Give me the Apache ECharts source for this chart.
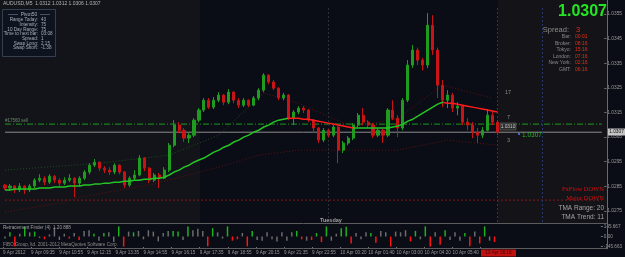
<!DOCTYPE html>
<html>
<head>
<meta charset="utf-8">
<title>AUDUSD M5</title>
<script src="https://cdn.jsdelivr.net/npm/echarts@6.0.0/dist/echarts.min.js"></script>
<style>
html, body { margin: 0; padding: 0; background: #0a0d15; }
#chart { width: 625px; height: 257px; }
</style>
</head>
<body>
<div id="chart"></div>
<script>
// AUDUSD M5 candles (one candle ~ 5px)
const opens = [1.02855,1.02843,1.02851,1.02835,1.02851,1.02835,1.02851,1.02875,1.02883,1.02867,
  1.02891,1.02875,1.02863,1.02875,1.02883,1.02863,1.02883,1.02908,1.02936,1.02948,
  1.02924,1.02916,1.02908,1.02936,1.02908,1.02855,1.02883,1.02896,1.02965,1.02924,
  1.02875,1.02896,1.02883,1.02916,1.03017,1.03099,1.03078,1.03046,1.03058,1.03119,
  1.0316,1.032,1.03172,1.032,1.03221,1.03192,1.03233,1.032,1.0318,1.032,
  1.0318,1.03209,1.03241,1.03302,1.03274,1.03249,1.03209,1.03221,1.03127,1.03152,
  1.03168,1.0316,1.03119,1.03087,1.03038,1.03078,1.03058,1.03091,1.02997,1.03026,
  1.03046,1.03099,1.03139,1.03111,1.03099,1.03058,1.03078,1.03058,1.0316,1.03127,
  1.03087,1.032,1.03343,1.03404,1.03363,1.03343,1.03505,1.03404,1.03261,1.032,
  1.03221,1.03168,1.03176,1.03111,1.03099,1.0307,1.03058,1.03078,1.03139,1.03111];
const closes = [1.02843,1.02851,1.02835,1.02851,1.02835,1.02851,1.02875,1.02883,1.02867,1.02891,
  1.02875,1.02863,1.02875,1.02883,1.02863,1.02883,1.02908,1.02936,1.02948,1.02924,
  1.02916,1.02908,1.02936,1.02908,1.02855,1.02883,1.02896,1.02965,1.02924,1.02875,
  1.02896,1.02883,1.02916,1.03017,1.03099,1.03078,1.03046,1.03058,1.03119,1.0316,
  1.032,1.03172,1.032,1.03221,1.03192,1.03233,1.032,1.0318,1.032,1.0318,
  1.03209,1.03241,1.03302,1.03274,1.03249,1.03209,1.03221,1.03127,1.03152,1.03168,
  1.0316,1.03119,1.03087,1.03038,1.03078,1.03058,1.03091,1.02997,1.03026,1.03046,
  1.03099,1.03139,1.03111,1.03099,1.03058,1.03078,1.03058,1.0316,1.03127,1.03087,
  1.032,1.03343,1.03404,1.03363,1.03343,1.03505,1.03404,1.03261,1.032,1.03221,
  1.03168,1.03176,1.03111,1.03099,1.0307,1.03058,1.03078,1.03139,1.03111,1.0307];
const highs = [1.0286,1.02859,1.02855,1.02863,1.02855,1.02859,1.02883,1.02899,1.02891,1.02899,
  1.02896,1.02883,1.02887,1.02899,1.02887,1.02891,1.02916,1.02944,1.02961,1.02952,
  1.02932,1.02928,1.02944,1.0294,1.02912,1.02891,1.02916,1.02977,1.02969,1.02928,
  1.02904,1.02904,1.02928,1.03026,1.03119,1.03111,1.03087,1.03066,1.03127,1.03168,
  1.03209,1.03209,1.03213,1.03233,1.03225,1.03245,1.03237,1.03209,1.03209,1.03204,
  1.03217,1.03249,1.0331,1.03306,1.03282,1.03253,1.0323,1.03225,1.0316,1.03176,
  1.03176,1.03164,1.03123,1.03091,1.03087,1.03083,1.03099,1.03095,1.03034,1.03054,
  1.03107,1.03148,1.03168,1.03119,1.03107,1.03087,1.03083,1.03168,1.032,1.03139,
  1.03209,1.03363,1.03424,1.03414,1.03372,1.03554,1.03546,1.03414,1.03282,1.03241,
  1.0323,1.03192,1.0318,1.03127,1.03111,1.03087,1.03091,1.03164,1.03152,1.03119];
const lows = [1.02835,1.02831,1.02823,1.02827,1.02819,1.02827,1.02843,1.02867,1.02855,1.02859,
  1.02863,1.02847,1.02855,1.02867,1.02806,1.02851,1.02875,1.02899,1.02928,1.02912,
  1.02904,1.02896,1.02899,1.02899,1.02843,1.02847,1.02875,1.02891,1.02912,1.02863,
  1.02867,1.02843,1.02879,1.02908,1.03009,1.03066,1.0303,1.03026,1.0305,1.03111,
  1.03152,1.03164,1.03164,1.03192,1.0318,1.03184,1.03188,1.03168,1.03172,1.03172,
  1.03176,1.032,1.03233,1.03265,1.03241,1.032,1.032,1.03119,1.03099,1.03143,
  1.03148,1.03111,1.03066,1.03026,1.0303,1.0305,1.0305,1.02944,1.02985,1.03017,
  1.03038,1.03091,1.03099,1.03087,1.03046,1.0305,1.03026,1.0305,1.03119,1.0305,
  1.03078,1.03192,1.03331,1.03343,1.03321,1.03331,1.03384,1.03209,1.03172,1.03168,
  1.03152,1.03139,1.03099,1.03078,1.03046,1.03026,1.03046,1.03074,1.03099,1.03058];

// TMA centre line
const tmaLine = [1.02835,1.02835,1.02839,1.02839,1.02839,1.02839,1.02839,1.02843,1.02843,1.02843,
  1.02847,1.02847,1.02847,1.02851,1.02851,1.02851,1.02855,1.02855,1.02859,1.02859,
  1.02863,1.02863,1.02867,1.02867,1.02871,1.02871,1.02875,1.02875,1.02879,1.02879,
  1.02883,1.02883,1.02887,1.02896,1.02908,1.02916,1.02928,1.02936,1.02948,1.02957,
  1.02965,1.02977,1.02989,1.02997,1.03009,1.03017,1.0303,1.03038,1.0305,1.03058,
  1.0307,1.03078,1.03091,1.03099,1.03111,1.03119,1.03123,1.03127,1.03127,1.03127,
  1.03123,1.03123,1.03119,1.03115,1.03111,1.03107,1.03103,1.03099,1.03095,1.03091,
  1.03087,1.03087,1.03087,1.03087,1.03087,1.03087,1.03087,1.03087,1.03091,1.03095,
  1.03103,1.03115,1.03123,1.03135,1.03148,1.0316,1.03172,1.03184,1.03192,1.03188,
  1.03188,1.03184,1.0318,1.03176,1.03172,1.03168,1.03164,1.0316,1.03156,1.03152];
// candle index ranges where the TMA slopes down (drawn red)
const tmaDownRanges = [[57, 70], [88, 99]];

// faint band lines, [candle index, price]
const upperBandUp = [[0, 1.02916], [19, 1.02944], [33, 1.02977], [43, 1.03058], [52, 1.03229]];
const upperBandDown = [[52, 1.03229], [59, 1.03188], [70, 1.03091], [79, 1.03127], [88, 1.03261], [98, 1.03209]];
const lowerBand = [[0, 1.02745], [11, 1.02782], [15, 1.02806], [29, 1.02855], [43, 1.02928], [51, 1.02977],
  [59, 1.02997], [70, 1.02997], [79, 1.02997], [89, 1.03038], [99, 1.03017]];

// lower pane histogram and its state (1 up, -1 down, 0 neutral)
const histValues = [-30,60,-145,40,145,60,70,-20,-40,30,
  130,-50,40,-30,50,-50,80,90,40,-60,
  50,60,-80,145,-145,70,60,80,-40,90,
  70,-70,50,80,80,70,-50,145,90,110,
  80,-140,120,60,-30,145,-60,-40,50,-140,
  80,-50,-60,60,-40,-70,60,-60,60,80,
  -40,-60,-50,50,-80,145,-60,40,120,140,
  -100,50,-40,60,50,-90,80,60,-145,70,
  60,90,-70,80,-40,145,-145,60,-120,90,
  -50,60,-60,50,-140,70,-100,145,-60,-80];
const histState = [0,1,-1,0,1,0,1,0,-1,0,
  0,0,0,-1,0,-1,0,0,1,0,
  1,0,0,1,-1,0,1,0,0,0,
  0,0,0,0,1,1,0,1,0,0,
  0,-1,1,0,0,1,-1,-1,0,-1,
  1,0,0,0,0,0,0,0,0,1,
  -1,0,-1,1,-1,1,0,0,1,1,
  -1,0,0,0,1,-1,0,0,-1,0,
  0,0,-1,1,0,1,-1,0,-1,1,
  0,0,0,1,-1,0,-1,1,0,-1];

const futureBars = 21;
const priceTicks = [1.0275, 1.0285, 1.0295, 1.0305, 1.0315, 1.0325, 1.0335, 1.0345, 1.0355];
const histTicks = [-145.663, 0, 145.667];
const timeLabels = ['9 Apr 2012', '9 Apr 09:35', '9 Apr 10:55', '9 Apr 12:15', '9 Apr 13:35', '9 Apr 14:55',
  '9 Apr 16:15', '9 Apr 17:35', '9 Apr 18:55', '9 Apr 20:15', '9 Apr 21:35', '9 Apr 22:55',
  '10 Apr 00:20', '10 Apr 01:40', '10 Apr 03:00', '10 Apr 04:20', '10 Apr 05:40', '10 Apr 07:00'];

const lastPrice = 1.0307;
const orderLevel = 1.03103;
const lowLevel = 1.02794;
// vertical markers: day separator, current bar, time marker (candle index)
const daySplitBar = 65;
const currentBar = 99;
const timeMarkBar = 108;

const GREEN = '#1f9c1f';
const RED = '#c81414';
const GRAY_TXT = '#9a9a9a';
const SANS = 'Liberation Sans';

const cats = [];
for (let i = 0; i < closes.length + futureBars; i++) cats.push(String(i));
const lastCat = cats.length - 1;
const candles = closes.map((c, i) => [opens[i], c, lows[i], highs[i]]);

function txt(x, y, text, o) {
  o = o || {};
  return {
    type: 'text', x: x, y: y, z: 50, silent: true,
    style: {
      text: text, fill: o.fill || GRAY_TXT, font: (o.weight || 'normal') + ' ' + (o.size || 5) + 'px ' + (o.family || SANS),
      textAlign: o.align || 'left', textVerticalAlign: 'middle'
    }
  };
}

function levelLine(level, color, type) {
  return { type: 'line', xAxisIndex: 0, yAxisIndex: 0, data: [[0, level], [lastCat, level]], symbol: 'none', z: 3,
    silent: true, lineStyle: { width: 1, color: color, type: type } };
}

const panelRows = [['Range Today:', '43'], ['Intensity:', '75'], ['10 Day Range:', '75'], ['Time to next bar:', '03:08'],
  ['Spread:', '1'], ['Swap Long:', '2.15'], ['Swap Short:', '-1.38']];
const clockRows = [['Bar:', '00:01'], ['Broker:', '08:16'], ['Tokyo:', '15:16'], ['London:', '07:16'],
  ['New York:', '02:16'], ['GMT:', '06:16']];

const graphic = [
  // session shading
  { type: 'rect', z: 0, silent: true, shape: { x: 0, y: 0, width: 200, height: 223 }, style: { fill: '#131419' } },
  { type: 'rect', z: 0, silent: true, shape: { x: 498, y: 0, width: 109, height: 223 }, style: { fill: '#141418' } },
  // pane borders
  { type: 'line', z: 40, silent: true, shape: { x1: 0, y1: 223.5, x2: 607, y2: 223.5 }, style: { stroke: '#5c5c5c', lineWidth: 1 } },
  { type: 'line', z: 40, silent: true, shape: { x1: 0, y1: 248.5, x2: 607, y2: 248.5 }, style: { stroke: '#5c5c5c', lineWidth: 1 } },
  { type: 'line', z: 40, silent: true, shape: { x1: 607.5, y1: 0, x2: 607.5, y2: 249 }, style: { stroke: '#6a6a6a', lineWidth: 1 } },
  txt(3, 4, 'AUDUSD,M5  1.0312 1.0312 1.0306 1.0307', { fill: '#b4b4b4' }),
  // info panel
  { type: 'rect', z: 45, silent: true, shape: { x: 2.5, y: 9.5, width: 53, height: 47 }, style: { fill: '#0d1420', stroke: '#34404f', lineWidth: 1 } },
  txt(29, 15, '——  Pivot50  ——', { align: 'center', fill: '#a8b0ba' })
];
panelRows.forEach((r, k) => {
  graphic.push(txt(38, 20 + k * 4.7, r[0], { align: 'right', fill: '#a8b0ba', size: 4.6 }));
  graphic.push(txt(41, 20 + k * 4.7, r[1], { fill: '#a8b0ba', size: 4.6 }));
});
// top right block
graphic.push(txt(607, 12, lastPrice.toFixed(4), { align: 'right', fill: '#22e622', size: 16, weight: 'bold' }));
graphic.push(txt(569, 30, 'Spread:', { align: 'right', fill: '#8a8a8a', size: 7.5 }));
graphic.push(txt(576, 30, '3', { fill: '#e03018', size: 7.5 }));
clockRows.forEach((r, k) => {
  graphic.push(txt(571, 37 + k * 6.5, r[0], { align: 'right', fill: '#8a8a8a', size: 5 }));
  graphic.push(txt(575, 37 + k * 6.5, r[1], { fill: '#e03018', size: 5 }));
});
// labels near last bar
graphic.push(txt(505, 92, '17', { fill: '#8a8a8a', size: 5.5 }));
graphic.push(txt(507, 117, '7', { fill: '#8a8a8a', size: 5.5 }));
graphic.push(txt(507, 140, '3', { fill: '#8a8a8a', size: 5.5 }));
graphic.push({ type: 'rect', z: 45, silent: true, shape: { x: 500, y: 123, width: 16, height: 7 }, style: { fill: '#2c2c2c', stroke: '#777', lineWidth: 0.5 } });
graphic.push(txt(508, 126.5, '1.0310', { align: 'center', fill: '#c8c8c8', size: 4.8 }));
graphic.push({ type: 'rect', z: 45, silent: true, shape: { x: 518, y: 133, width: 2, height: 2 }, style: { fill: '#3a6ad0' } });
graphic.push(txt(522, 135, '1.0307', { fill: '#2cb82c', size: 6.5 }));
// last price tag on the price scale
graphic.push({ type: 'rect', z: 45, silent: true, shape: { x: 608, y: 128.5, width: 17, height: 7 }, style: { fill: '#c4c4c4' } });
graphic.push(txt(616.5, 132, '1.0307', { align: 'center', fill: '#111', size: 4.8 }));
// signals
graphic.push(txt(604, 189, 'FxFlow DOWN', { align: 'right', fill: '#d41010', size: 6.5, family: 'Liberation Serif' }));
graphic.push(txt(604, 198, 'Major DOWN', { align: 'right', fill: '#d41010', size: 6.5, family: 'Liberation Serif' }));
graphic.push(txt(604, 208, 'TMA Range: 20', { align: 'right', fill: '#a4a4a4', size: 6.5 }));
graphic.push(txt(604, 217, 'TMA Trend: 11', { align: 'right', fill: '#a4a4a4', size: 6.5 }));
graphic.push(txt(320, 220, 'Tuesday', { fill: '#a0a0a0', size: 5.5, weight: 'bold' }));
graphic.push(txt(5, 121, '#17560 sell', { fill: '#6a8a6a', size: 4.5 }));
// lower pane texts
graphic.push(txt(3, 228, 'Retracement Finder (4)  1.20 888', { fill: '#a0a0a0', size: 4.6 }));
graphic.push(txt(3, 245, 'FIBO Group, ltd. 2001-2012 MetaQuotes Software Corp.', { fill: '#8a8a8a', size: 4.6 }));
// current time box on the time scale
graphic.push({ type: 'rect', z: 45, silent: true, shape: { x: 481, y: 249.5, width: 35, height: 7 }, style: { fill: '#c01010' } });
graphic.push(txt(498.5, 253, '10 Apr 06:16', { align: 'center', fill: '#4a0000', size: 4.6 }));

const tmaPieces = [];
let start = 0;
tmaDownRanges.forEach(r => {
  tmaPieces.push({ gte: start, lt: r[0], color: '#24c424' });
  tmaPieces.push({ gte: r[0], lt: r[1], color: '#ff1c1c' });
  start = r[1];
});
tmaPieces.push({ gte: start, color: '#24c424' });

const chart = echarts.init(document.getElementById('chart'), null, { renderer: 'canvas' });
chart.setOption({
  backgroundColor: '#0a0d15',
  animation: false,
  grid: [
    { left: 2.5, right: 17.5, top: 8, height: 214 },
    { left: 2.5, right: 17.5, top: 225, height: 23 },
    { left: 3, right: 144.3, top: 248, height: 1 }
  ],
  xAxis: [
    { type: 'category', gridIndex: 0, data: cats, boundaryGap: true, axisLine: { show: false }, axisTick: { show: false }, axisLabel: { show: false } },
    { type: 'category', gridIndex: 1, data: cats, boundaryGap: true, axisLine: { show: false }, axisTick: { show: false }, axisLabel: { show: false } },
    { type: 'category', gridIndex: 2, data: timeLabels, boundaryGap: false, axisLine: { show: false },
      axisTick: { show: true, length: 2, inside: true, lineStyle: { color: '#777' } },
      axisLabel: { interval: 0, align: 'left', margin: 1.5, fontSize: 4.6, color: GRAY_TXT, fontFamily: SANS } }
  ],
  yAxis: [
    { type: 'value', gridIndex: 0, position: 'right', min: 1.02705, max: 1.03575, splitLine: { show: false },
      axisLine: { show: false },
      axisTick: { show: true, length: 2, customValues: priceTicks, lineStyle: { color: '#777' } },
      axisLabel: { customValues: priceTicks, formatter: v => v.toFixed(4), fontSize: 4.8, color: GRAY_TXT, fontFamily: SANS, margin: 3 } },
    { type: 'value', gridIndex: 1, position: 'right', min: -165, max: 165, splitLine: { show: false },
      axisLine: { show: false },
      axisTick: { show: true, length: 2, customValues: histTicks, lineStyle: { color: '#777' } },
      axisLabel: { customValues: histTicks, formatter: v => (v === 0 ? '0.00' : v.toFixed(3)), fontSize: 4.6, color: GRAY_TXT, fontFamily: SANS, margin: 3 } },
    { type: 'value', gridIndex: 2, show: false }
  ],
  visualMap: { show: false, type: 'piecewise', seriesIndex: 1, dimension: 0, pieces: tmaPieces },
  graphic: graphic,
  series: [
    {
      type: 'candlestick', name: 'AUDUSD', xAxisIndex: 0, yAxisIndex: 0, data: candles, barWidth: 2.6, z: 5,
      itemStyle: { color: GREEN, color0: RED, borderColor: GREEN, borderColor0: RED, borderWidth: 1 }
    },
    { type: 'line', name: 'TMA', xAxisIndex: 0, yAxisIndex: 0, data: tmaLine, symbol: 'none', z: 6,
      lineStyle: { width: 1.5 } },
    { type: 'line', name: 'Upper band', xAxisIndex: 0, yAxisIndex: 0, data: upperBandUp, symbol: 'none', z: 4,
      lineStyle: { width: 1, color: '#1d4f1d', type: [1, 2] } },
    { type: 'line', name: 'Upper band', xAxisIndex: 0, yAxisIndex: 0, data: upperBandDown, symbol: 'none', z: 4,
      lineStyle: { width: 1, color: '#5e1212', type: [1, 2] } },
    { type: 'line', name: 'Lower band', xAxisIndex: 0, yAxisIndex: 0, data: lowerBand, symbol: 'none', z: 4,
      lineStyle: { width: 1, color: '#5e1212', type: [1, 2] },
      markLine: {
        silent: true, symbol: ['none', 'none'], label: { show: false }, animation: false,
        data: [
          { xAxis: currentBar, lineStyle: { color: '#8a1616', type: [2, 2], width: 1 } },
          { xAxis: timeMarkBar, lineStyle: { color: '#24366e', type: [2, 2], width: 1 } },
          { xAxis: daySplitBar, lineStyle: { color: '#2c2f36', type: [2, 2], width: 1 } }
        ]
      } },
    levelLine(orderLevel, '#1f9a1f', [6, 2, 1, 2]),
    levelLine(lastPrice, '#8c8c8c', 'solid'),
    levelLine(lowLevel, '#8a1616', [2, 2]),
    { type: 'bar', name: 'Retracement', xAxisIndex: 1, yAxisIndex: 1, data: histValues, barWidth: 1.5,
      itemStyle: { color: p => (histState[p.dataIndex] > 0 ? '#1fb01f' : histState[p.dataIndex] < 0 ? '#ff1414' : '#6c6c6c') } }
  ]
});
</script>
</body>
</html>
